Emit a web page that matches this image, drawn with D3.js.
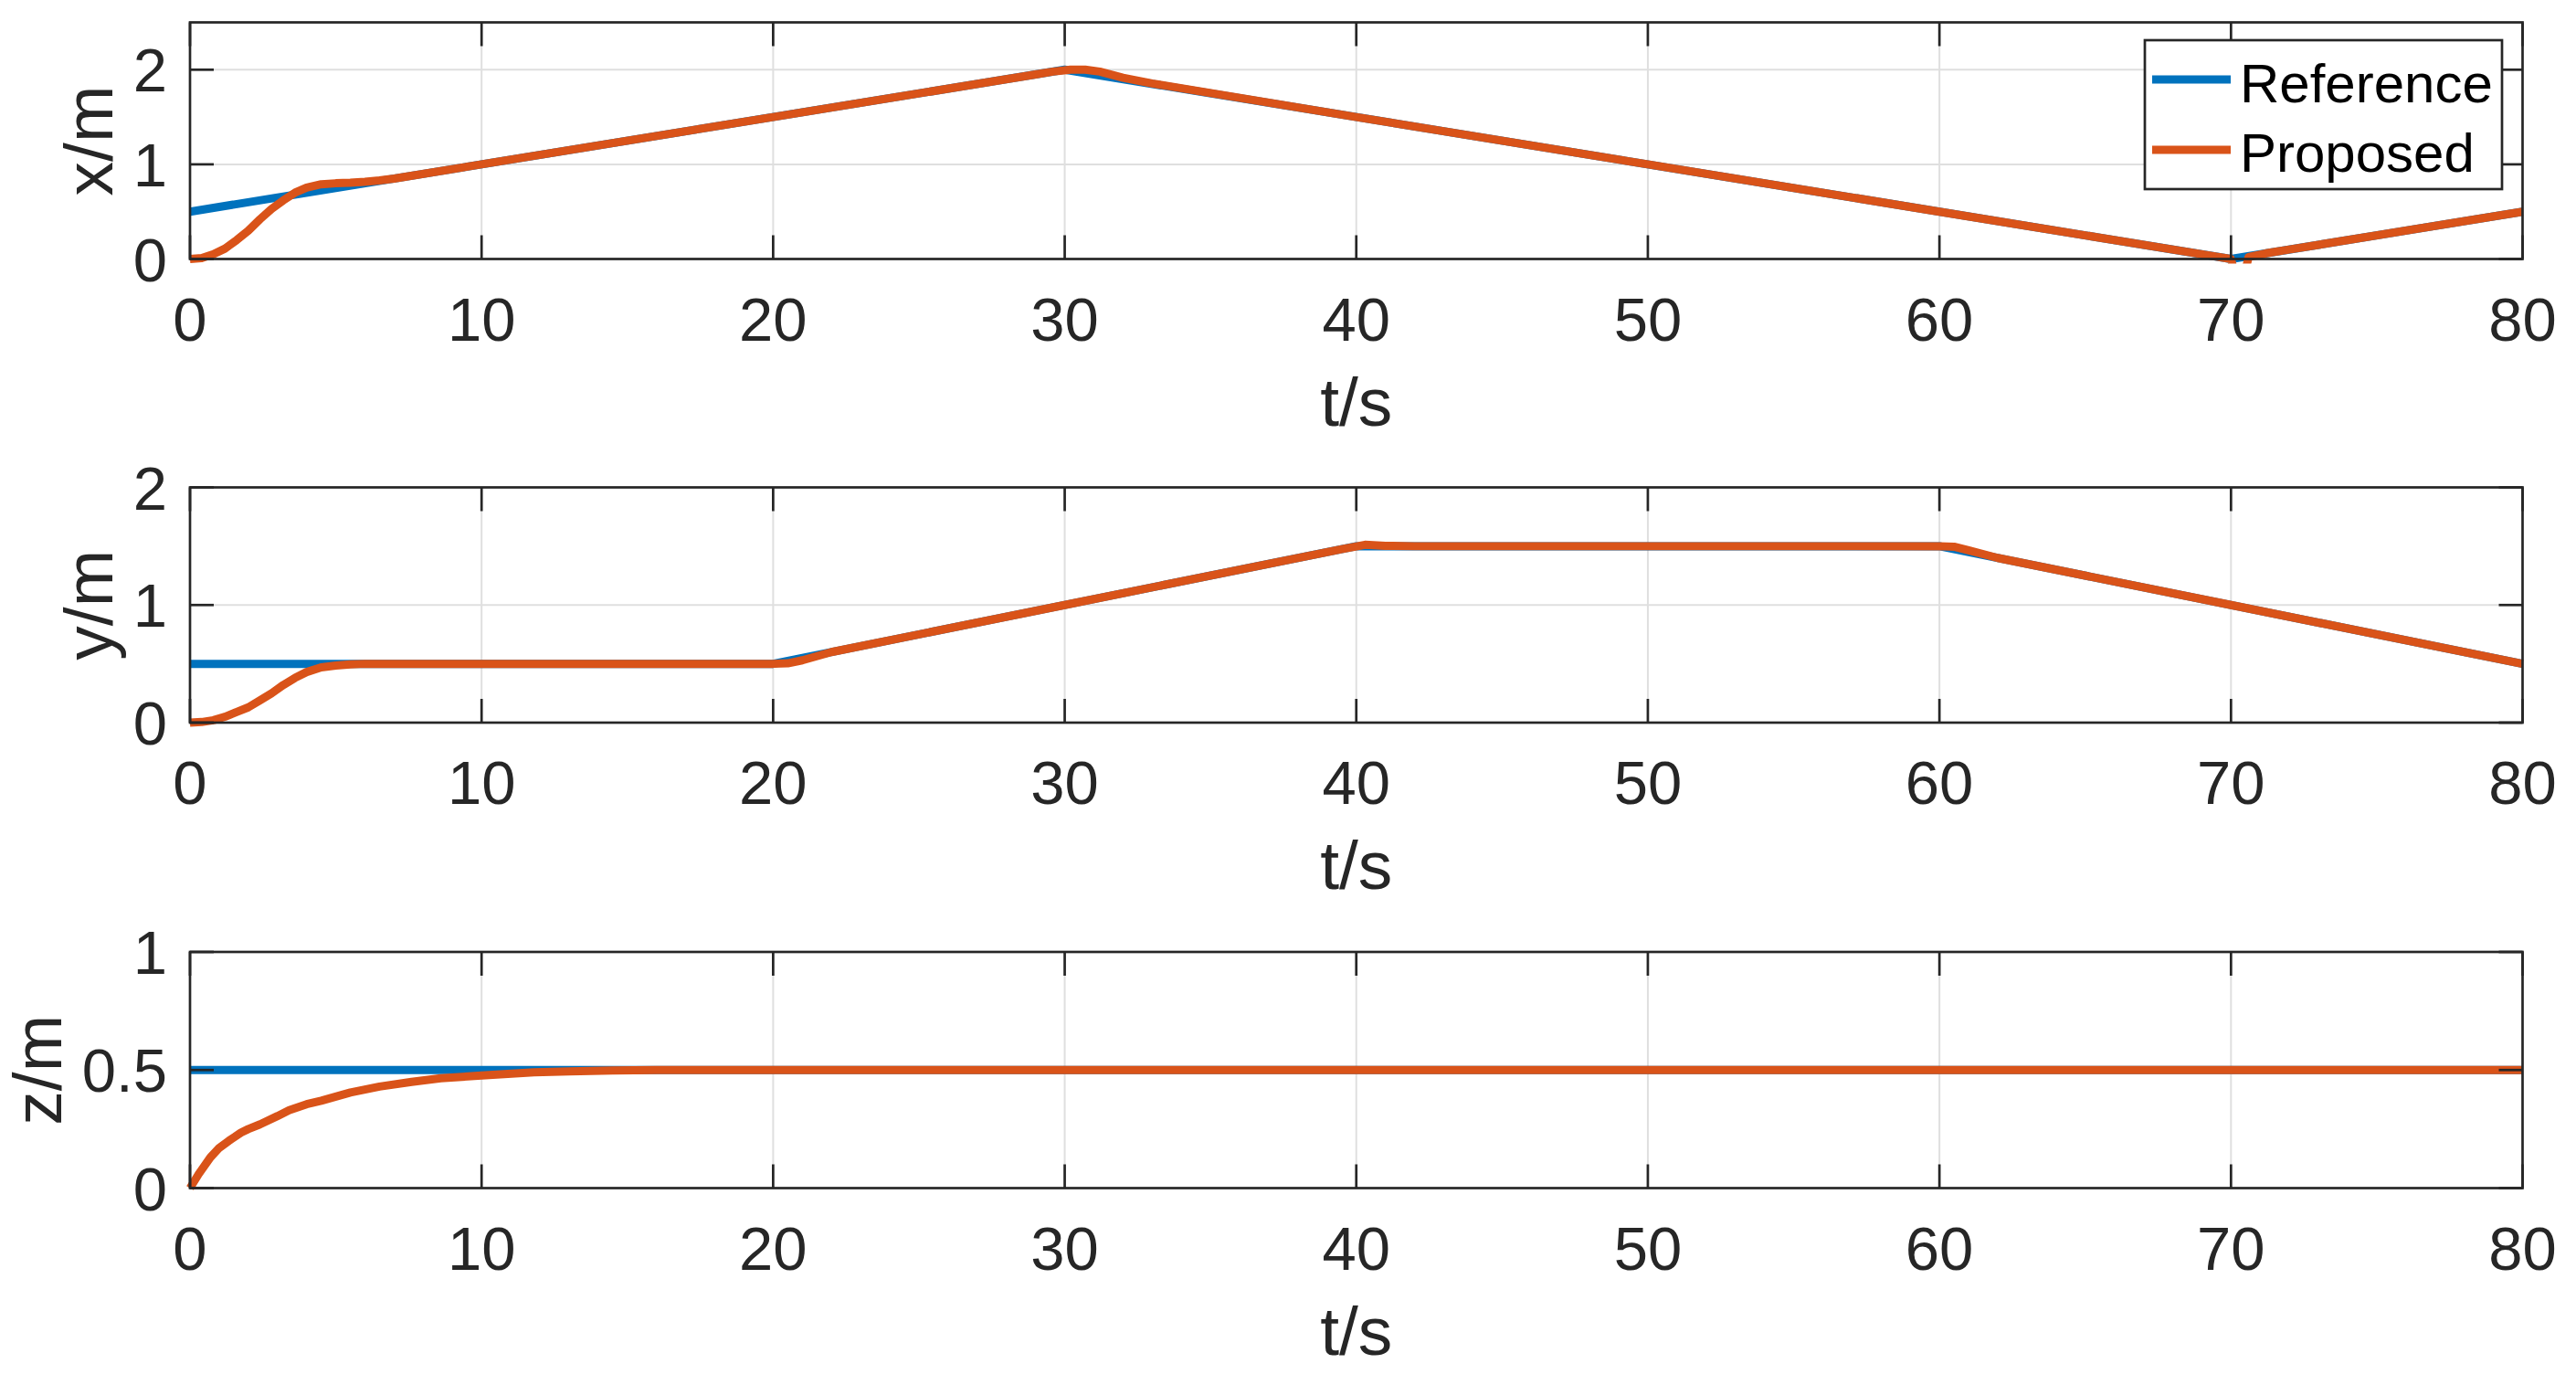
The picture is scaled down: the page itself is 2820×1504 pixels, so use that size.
<!DOCTYPE html>
<html>
<head>
<meta charset="utf-8">
<script src="https://cdn.jsdelivr.net/npm/d3@7"></script>
<style>
  html, body { margin: 0; padding: 0; background: #fff; }
  svg { display: block; }
  text { font-family: "Liberation Sans", Arial, Helvetica, sans-serif; }
</style>
</head>
<body>
<svg id="chart" width="2820" height="1504"></svg>
<script>
// ---------------- DATA ----------------
const xTicks = [0, 10, 20, 30, 40, 50, 60, 70, 80];
const seriesNames = ["Reference", "Proposed"];

// Panel 1: x/m
const tRefX = [0, 30, 70, 80];
const xRef  = [0.5, 2.0, 0.0, 0.5];
const tPropX = [0, 0.4, 0.8, 1.2, 1.6, 2.0, 2.4, 2.8, 3.2, 3.6, 4.0, 4.5, 5.0, 5.5, 6.0, 6.5, 7, 10, 20, 29, 29.6, 30.2, 30.7, 31.2, 32, 33, 40, 50, 60, 69.5, 70, 70.1, 70.5, 70.6, 71.2, 72, 80];
const xProp  = [0.0, 0.01, 0.05, 0.11, 0.2, 0.3, 0.42, 0.53, 0.62, 0.7, 0.755, 0.79, 0.8, 0.805, 0.815, 0.83, 0.85, 1.0, 1.5, 1.95, 1.98, 2.0, 2.0, 1.98, 1.915, 1.855, 1.5, 1.0, 0.5, 0.025, 0.0, -0.12, -0.12, 0.02, 0.06, 0.1, 0.5];
const yTicksX = [0, 1, 2];

// Panel 2: y/m
const tRefY = [0, 20, 40, 60, 80];
const yRef  = [0.5, 0.5, 1.5, 1.5, 0.5];
const tPropY = [0, 0.4, 0.8, 1.2, 1.6, 2.0, 2.4, 2.8, 3.2, 3.6, 4.0, 4.5, 5.0, 5.5, 6.0, 7, 20, 20.5, 21, 22, 30, 39.5, 40.3, 41, 42, 60, 60.5, 61, 62, 70, 80];
const yProp  = [0.0, 0.005, 0.02, 0.05, 0.09, 0.13, 0.19, 0.25, 0.32, 0.38, 0.43, 0.47, 0.485, 0.495, 0.5, 0.5, 0.5, 0.504, 0.53, 0.6, 1.0, 1.475, 1.512, 1.503, 1.5, 1.5, 1.496, 1.465, 1.4, 1.0, 0.5];
const yTicksY = [0, 1, 2];

// Panel 3: z/m
const tRefZ = [0, 80];
const zRef  = [0.5, 0.5];
const tPropZ = [0, 0.3, 0.7, 1.0, 1.33, 1.75, 2.0, 2.4, 3.0, 3.4, 4.0, 4.5, 5.5, 6.5, 7.6, 8.6, 10, 11.8, 13, 14.5, 16, 80];
const zProp  = [0.0, 0.06, 0.13, 0.17, 0.2, 0.235, 0.25, 0.27, 0.305, 0.33, 0.355, 0.37, 0.405, 0.43, 0.45, 0.465, 0.477, 0.49, 0.494, 0.498, 0.5, 0.5];
const yTicksZ = [0, 0.5, 1];

// ---------------- LAYOUT / STYLE ----------------
const colors = { ref: "#0072BD", prop: "#D95319" };
const axisColor = "#262626";
const gridColor = "#dfdfdf";
const tickFont = 67, labelFont = 75, legendFont = 60;
const left = 208, right = 2761.5;
const tickLen = 26;
const lineW = 9;

const panels = [
  { top: 24.5, bottom: 283.5, domain: [0, 2.5], yTicks: yTicksX, label: "x/m", labelX: 123,
    ref: [tRefX, xRef], prop: [tPropX, xProp], legend: true },
  { top: 533.5, bottom: 791, domain: [0, 2], yTicks: yTicksY, label: "y/m", labelX: 123,
    ref: [tRefY, yRef], prop: [tPropY, yProp] },
  { top: 1042, bottom: 1300.5, domain: [0, 1], yTicks: yTicksZ, label: "z/m", labelX: 67,
    ref: [tRefZ, zRef], prop: [tPropZ, zProp] }
];

const svg = d3.select("#chart");
svg.append("rect").attr("width", 2820).attr("height", 1504).attr("fill", "#fff");
const defs = svg.append("defs");

const x = d3.scaleLinear().domain([0, 80]).range([left, right]);

panels.forEach((p, i) => {
  const y = d3.scaleLinear().domain(p.domain).range([p.bottom, p.top]);
  const g = svg.append("g");

  // grid
  const grid = g.append("g");
  xTicks.slice(1, -1).forEach(t => {
    grid.append("line").attr("x1", x(t)).attr("x2", x(t)).attr("y1", p.top).attr("y2", p.bottom)
      .attr("stroke", gridColor).attr("stroke-width", 2);
  });
  p.yTicks.forEach(v => {
    if (v === p.domain[0] || v === p.domain[1]) return;
    grid.append("line").attr("x1", left).attr("x2", right).attr("y1", y(v)).attr("y2", y(v))
      .attr("stroke", gridColor).attr("stroke-width", 2);
  });

  // data
  const clipId = "clip" + i;
  defs.append("clipPath").attr("id", clipId).append("rect")
    .attr("x", left - 5).attr("y", p.top - 5).attr("width", right - left + 10).attr("height", p.bottom - p.top + 10);
  const line = d3.line().x(d => x(d[0])).y(d => y(d[1]));
  const refPts = p.ref[0].map((t, k) => [t, p.ref[1][k]]);
  const propPts = p.prop[0].map((t, k) => [t, p.prop[1][k]]);
  const dg = g.append("g").attr("clip-path", `url(#${clipId})`);
  dg.append("path").attr("d", line(refPts)).attr("fill", "none").attr("stroke", colors.ref)
    .attr("stroke-width", lineW).attr("stroke-linejoin", "round");
  dg.append("path").attr("d", line(propPts)).attr("fill", "none").attr("stroke", colors.prop)
    .attr("stroke-width", lineW).attr("stroke-linejoin", "round");

  // box
  g.append("rect").attr("x", left).attr("y", p.top).attr("width", right - left).attr("height", p.bottom - p.top)
    .attr("fill", "none").attr("stroke", axisColor).attr("stroke-width", 2.7);

  // ticks (inward, all four sides)
  xTicks.forEach(t => {
    g.append("line").attr("x1", x(t)).attr("x2", x(t)).attr("y1", p.bottom).attr("y2", p.bottom - tickLen)
      .attr("stroke", axisColor).attr("stroke-width", 2.7);
    g.append("line").attr("x1", x(t)).attr("x2", x(t)).attr("y1", p.top).attr("y2", p.top + tickLen)
      .attr("stroke", axisColor).attr("stroke-width", 2.7);
  });
  p.yTicks.forEach(v => {
    g.append("line").attr("x1", left).attr("x2", left + tickLen).attr("y1", y(v)).attr("y2", y(v))
      .attr("stroke", axisColor).attr("stroke-width", 2.7);
    g.append("line").attr("x1", right).attr("x2", right - tickLen).attr("y1", y(v)).attr("y2", y(v))
      .attr("stroke", axisColor).attr("stroke-width", 2.7);
  });

  // x tick labels
  xTicks.forEach(t => {
    g.append("text").attr("x", x(t)).attr("y", p.bottom + 89).attr("text-anchor", "middle")
      .attr("font-size", tickFont).attr("fill", axisColor).text(d3.format("d")(t));
  });
  // y tick labels
  p.yTicks.forEach(v => {
    g.append("text").attr("x", left - 25).attr("y", y(v) + 24).attr("text-anchor", "end")
      .attr("font-size", tickFont).attr("fill", axisColor).text(String(v));
  });

  // axis labels
  g.append("text").attr("x", (left + right) / 2).attr("y", p.bottom + 182).attr("text-anchor", "middle")
    .attr("font-size", labelFont).attr("fill", axisColor).text("t/s");
  const ly = (p.top + p.bottom) / 2;
  g.append("text").attr("transform", `translate(${p.labelX},${ly}) rotate(-90)`).attr("text-anchor", "middle")
    .attr("font-size", labelFont).attr("fill", axisColor).text(p.label);

  // legend
  if (p.legend) {
    const lg = g.append("g");
    lg.append("rect").attr("x", 2348).attr("y", 44).attr("width", 391).attr("height", 163)
      .attr("fill", "#fff").attr("stroke", axisColor).attr("stroke-width", 2.7);
    const rows = [{ name: seriesNames[0], c: colors.ref, ly: 87, ty: 112 },
                  { name: seriesNames[1], c: colors.prop, ly: 164, ty: 188 }];
    rows.forEach(r => {
      lg.append("line").attr("x1", 2356).attr("x2", 2442).attr("y1", r.ly).attr("y2", r.ly)
        .attr("stroke", r.c).attr("stroke-width", lineW);
      lg.append("text").attr("x", 2452).attr("y", r.ty).attr("font-size", legendFont)
        .attr("fill", "#000").text(r.name);
    });
  }
});
</script>
</body>
</html>
